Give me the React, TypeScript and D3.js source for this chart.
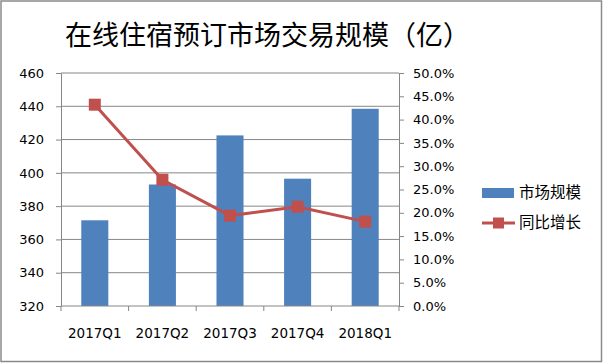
import { useRef, useEffect } from "react";
import * as d3 from "d3";

const categories = ["2017Q1", "2017Q2", "2017Q3", "2017Q4", "2018Q1"];
const marketSize = [371.5, 393, 422.5, 396.5, 438.5];
const yoyGrowth = [0.432, 0.271, 0.194, 0.213, 0.181];
const leftTicks = [320, 340, 360, 380, 400, 420, 440, 460];
const rightTicks = [0, 0.05, 0.1, 0.15, 0.2, 0.25, 0.3, 0.35, 0.4, 0.45, 0.5];
const seriesNames = ["市场规模", "同比增长"];

const W = 603;
const H = 363;
const BLUE = "#4F81BD";
const RED = "#C0504D";
const GRID = "#868686";
const FONT = "'DejaVu Sans', Verdana, sans-serif";
const CJK = "'Noto Sans CJK SC', sans-serif";

const App = () => {
  const ref = useRef<HTMLDivElement>(null);

  useEffect(() => {
    const margin = { top: 73, right: 204, bottom: 57, left: 61 };
    const width = W - margin.left - margin.right;
    const height = H - margin.top - margin.bottom;

    const root = d3
      .select(ref.current)
      .html("")
      .append("svg")
      .attr("width", W)
      .attr("height", H)
      .style("position", "absolute")
      .style("left", "0px")
      .style("top", "0px")
      .style("background", "#fff");

    root
      .append("rect")
      .attr("x", 1)
      .attr("y", 1)
      .attr("width", W - 2.5)
      .attr("height", H - 2.5)
      .attr("fill", "#fff")
      .attr("stroke", "#8a8a8a")
      .attr("stroke-width", 1.5);

    root
      .append("text")
      .attr("x", 65)
      .attr("y", 45)
      .attr("font-family", CJK)
      .attr("font-size", 27)
      .attr("fill", "#000")
      .text("在线住宿预订市场交易规模（亿）");

    const svg = root.append("g").attr("transform", `translate(${margin.left},${margin.top})`);

    const x = d3.scaleBand().domain(categories).range([0, width]).paddingInner(0.6).paddingOuter(0.3);
    const xb = d3.scaleBand().domain(categories).range([0, width]);
    const y = d3.scaleLinear().domain([320, 460]).range([height, 0]);
    const y2 = d3.scaleLinear().domain([0, 0.5]).range([height, 0]);

    // gridlines
    svg
      .selectAll("line.grid")
      .data(leftTicks.slice(1))
      .enter()
      .append("line")
      .attr("x1", 0)
      .attr("x2", width)
      .attr("y1", (d) => y(d))
      .attr("y2", (d) => y(d))
      .attr("stroke", GRID)
      .attr("stroke-width", 1);

    // bars
    svg
      .selectAll("rect.bar")
      .data(marketSize)
      .enter()
      .append("rect")
      .attr("x", (_, i) => x(categories[i]))
      .attr("y", (d) => y(d))
      .attr("width", x.bandwidth())
      .attr("height", (d) => height - y(d))
      .attr("fill", BLUE);

    const styleAxis = (g) => {
      g.select(".domain").attr("stroke", GRID).attr("stroke-width", 1);
      g.selectAll(".tick line").attr("stroke", GRID);
      g.selectAll(".tick text").attr("fill", "#000").attr("font-family", FONT).attr("font-size", 13);
    };

    // left axis
    svg
      .append("g")
      .call(d3.axisLeft(y).tickValues(leftTicks).tickSize(5).tickSizeOuter(0).tickPadding(12))
      .call(styleAxis);

    // right axis
    svg
      .append("g")
      .attr("transform", `translate(${width},0)`)
      .call(
        d3
          .axisRight(y2)
          .tickValues(rightTicks)
          .tickFormat(d3.format(".1%"))
          .tickSize(5)
          .tickSizeOuter(0)
          .tickPadding(9)
      )
      .call(styleAxis);

    // bottom axis with ticks at band boundaries
    const gx = svg.append("g").attr("transform", `translate(0,${height})`);
    gx.append("line").attr("x1", 0).attr("x2", width).attr("stroke", GRID);
    gx
      .selectAll("line.t")
      .data(d3.range(categories.length + 1))
      .enter()
      .append("line")
      .attr("x1", (i) => i * xb.step())
      .attr("x2", (i) => i * xb.step())
      .attr("y1", 0)
      .attr("y2", 5)
      .attr("stroke", GRID);
    gx
      .selectAll("text")
      .data(categories)
      .enter()
      .append("text")
      .attr("x", (d) => xb(d) + xb.bandwidth() / 2)
      .attr("y", 32)
      .attr("text-anchor", "middle")
      .attr("font-family", FONT)
      .attr("font-size", 13.5)
      .attr("fill", "#000")
      .text((d) => d);

    // growth line
    const cx = (i) => xb(categories[i]) + xb.bandwidth() / 2;
    const line = d3
      .line<number>()
      .x((_, i) => cx(i))
      .y((d) => y2(d));
    svg
      .append("path")
      .datum(yoyGrowth)
      .attr("d", line)
      .attr("fill", "none")
      .attr("stroke", RED)
      .attr("stroke-width", 3);
    svg
      .selectAll("rect.mk")
      .data(yoyGrowth)
      .enter()
      .append("rect")
      .attr("x", (_, i) => cx(i) - 6)
      .attr("y", (d) => y2(d) - 6)
      .attr("width", 12)
      .attr("height", 12)
      .attr("fill", RED);

    // legend
    const lg = root.append("g").attr("transform", "translate(482,0)");
    lg.append("rect").attr("x", 0).attr("y", 188).attr("width", 32).attr("height", 10).attr("fill", BLUE);
    lg.append("line").attr("x1", 0).attr("x2", 33).attr("y1", 223).attr("y2", 223).attr("stroke", RED).attr("stroke-width", 3);
    lg.append("rect").attr("x", 11).attr("y", 217.5).attr("width", 11).attr("height", 11).attr("fill", RED);
    lg.selectAll("text")
      .data(seriesNames)
      .enter()
      .append("text")
      .attr("x", 37)
      .attr("y", (_, i) => 193 + i * 30)
      .attr("dy", "0.35em")
      .attr("font-family", CJK)
      .attr("font-size", 15.5)
      .attr("fill", "#000")
      .text((d) => d);
  }, []);

  return <div ref={ref} />;
};

export default App;
